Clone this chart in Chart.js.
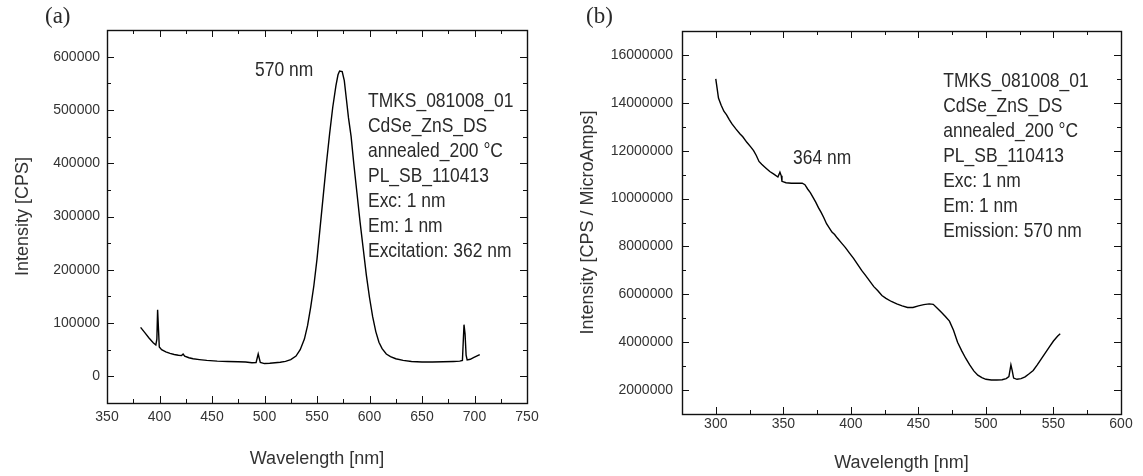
<!DOCTYPE html>
<html>
<head>
<meta charset="utf-8">
<title>PL / PLE spectra</title>
<script src="https://cdn.jsdelivr.net/npm/chart.js@4.4.1/dist/chart.umd.min.js"></script>
<style>
  html, body { margin: 0; padding: 0; background: #fff; }
  .panel { position: absolute; top: 0; }
  #panelA { left: 0; }
  #panelB { left: 570px; }
</style>
</head>
<body>
<div class="panel" id="panelA"><canvas id="chartA" width="570" height="476"></canvas></div>
<div class="panel" id="panelB"><canvas id="chartB" width="573" height="476"></canvas></div>
<script>
// ─── Data (a) : emission spectrum, excitation 362 nm ─────────
const wlA = [
  382, 386, 390, 394, 396.5, 397.5, 398.2, 399, 399.8, 402, 406, 410, 414, 418, 421, 422.5, 424,
  428, 432, 438, 445, 455, 465, 475, 482, 488, 492, 494, 496, 500, 505, 510, 515, 520, 525,
  530, 534, 538, 541, 544, 547, 550, 553, 556, 559, 562, 565, 568, 570, 571.5, 574, 576, 578,
  580, 582.5, 585, 588, 591, 594, 597, 600, 603, 606, 609, 612, 616, 620, 625, 632, 640, 650,
  660, 670, 680, 686, 688.5, 690, 691, 692, 693, 696, 699, 702, 705
];
const intA = [
  92000, 82000, 72000, 63000, 59000, 70000, 125000, 90000, 55000, 50000, 46000, 43000, 41000, 39500, 39000, 42000, 38000,
  35000, 33000, 31500, 30000, 28500, 28000, 27500, 27000, 25500, 26000, 42000, 26000, 24000, 24500, 25500, 26500, 28000, 31500,
  38000, 50000, 70000, 95000, 130000, 170000, 220000, 280000, 340000, 400000, 455000, 505000, 545000, 566000, 573000, 572000, 555000, 520000,
  485000, 450000, 400000, 345000, 290000, 240000, 190000, 148000, 112000, 84000, 64000, 52000, 42000, 37000, 33000, 30000, 28000, 27000,
  27000, 27500, 28000, 28500, 30000, 97000, 80000, 40000, 31000, 32000, 35000, 38000, 41000
];

// ─── Data (b) : excitation spectrum, emission 570 nm ─────────
const wlB = [
  300, 301, 302, 304, 306, 308, 310, 312, 315, 318, 320, 323, 326, 328, 330, 332, 334, 337, 340,
  343, 346, 347.5, 348.5, 349, 352, 356, 360, 364, 366, 368, 370, 372, 374, 376, 378, 380, 382,
  384, 386, 388, 390, 393, 396, 399, 402, 405, 408, 411, 414, 417, 420, 423, 426, 430, 434, 438,
  442, 446, 450, 454, 458, 461, 464, 467, 470, 473, 476, 479, 482, 485, 488, 491, 494, 497, 500,
  504, 508, 512, 515, 517, 518.5, 519.5, 520.5, 523, 526, 529, 532, 535, 538, 541, 544, 547, 550, 553, 555
];
const intB = [
  15000000, 14600000, 14200000, 13900000, 13650000, 13500000, 13300000, 13120000, 12900000, 12700000,
  12580000, 12350000, 12150000, 12000000, 11800000, 11550000, 11430000, 11280000, 11130000,
  11020000, 10900000, 11100000, 10950000, 10720000, 10660000, 10640000, 10640000, 10640000, 10580000,
  10400000, 10250000, 10050000, 9850000, 9620000, 9420000, 9200000, 8950000,
  8780000, 8600000, 8500000, 8350000, 8150000, 7950000, 7720000, 7500000, 7250000, 7000000, 6780000,
  6550000, 6320000, 6150000, 5950000, 5830000, 5700000, 5600000, 5520000,
  5450000, 5450000, 5520000, 5570000, 5600000, 5580000, 5420000, 5250000, 5070000, 4880000, 4500000,
  4000000, 3650000, 3330000, 3050000, 2800000, 2620000, 2520000, 2450000,
  2420000, 2420000, 2430000, 2480000, 2560000, 3050000, 2800000, 2500000, 2450000, 2480000, 2550000,
  2680000, 2820000, 3050000, 3300000, 3550000, 3800000, 4050000, 4250000, 4350000
];

// ─── Text ────────────────────────────────────────────────────
const infoA = ["TMKS_081008_01", "CdSe_ZnS_DS", "annealed_200 °C", "PL_SB_110413", "Exc: 1 nm", "Em: 1 nm", "Excitation: 362 nm"];
const infoB = ["TMKS_081008_01", "CdSe_ZnS_DS", "annealed_200 °C", "PL_SB_110413", "Exc: 1 nm", "Em: 1 nm", "Emission: 570 nm"];

const SANS = '"Liberation Sans", Arial, sans-serif';
const INK = "#2a2a2a";

// ─── Plugins ─────────────────────────────────────────────────
// box frame + inward ticks on all four sides (major = labelled tick)
const frameTicks = {
  id: "frameTicks",
  afterDraw(chart) {
    const { ctx, chartArea: a, scales: { x, y } } = chart;
    ctx.save();
    ctx.strokeStyle = "#111";
    ctx.lineWidth = 1;
    ctx.beginPath();
    for (const t of x.ticks) {
      const px = Math.round(x.getPixelForValue(t.value)) + 0.5;
      const len = t.label !== "" ? 7 : 4;
      ctx.moveTo(px, a.bottom); ctx.lineTo(px, a.bottom - len);
      ctx.moveTo(px, a.top); ctx.lineTo(px, a.top + len);
    }
    for (const t of y.ticks) {
      const py = Math.round(y.getPixelForValue(t.value)) + 0.5;
      const len = t.label !== "" ? 7 : 4;
      ctx.moveTo(a.left, py); ctx.lineTo(a.left + len, py);
      ctx.moveTo(a.right, py); ctx.lineTo(a.right - len, py);
    }
    ctx.stroke();
    ctx.lineWidth = 1.4;
    ctx.strokeRect(Math.round(a.left) + 0.5, Math.round(a.top) + 0.5,
      Math.round(a.right - a.left), Math.round(a.bottom - a.top));
    ctx.restore();
  }
};

// in-plot labels, anchored in data units
const notes = {
  id: "notes",
  afterDraw(chart, args, opts) {
    const { ctx, scales: { x, y } } = chart;
    ctx.save();
    ctx.fillStyle = INK;
    ctx.textBaseline = "middle";
    ctx.font = "21px " + SANS;
    for (const item of opts.items) {
      const px = x.getPixelForValue(item.x);
      const py = y.getPixelForValue(item.y);
      item.lines.forEach((line, i) => {
        ctx.save();
        ctx.translate(px, py + i * 25);
        ctx.scale(0.83, 1);
        ctx.fillText(line, 0, 0);
        ctx.restore();
      });
    }
    ctx.font = '23px "Liberation Serif", "Times New Roman", serif';
    ctx.fillText(opts.tag, opts.tagX, 17);
    ctx.restore();
  }
};

// ─── Chart factory ───────────────────────────────────────────
function makeChart(canvasId, cfg) {
  const data = cfg.wl.map((w, i) => ({ x: w, y: cfg.val[i] }));
  return new Chart(document.getElementById(canvasId), {
    type: "line",
    data: {
      datasets: [{
        data,
        borderColor: "#000",
        borderWidth: 1.4,
        pointRadius: 0,
        tension: 0,
        fill: false,
      }]
    },
    options: {
      responsive: false,
      devicePixelRatio: 1,
      animation: false,
      events: [],
      layout: { padding: cfg.padding },
      plugins: {
        legend: { display: false },
        tooltip: { enabled: false },
        notes: { items: cfg.notes, tag: cfg.tag, tagX: cfg.tagX },
      },
      scales: {
        x: {
          type: "linear",
          min: cfg.xMin, max: cfg.xMax,
          grid: { display: false, drawTicks: false },
          border: { display: false },
          ticks: {
            stepSize: cfg.xStep / 2,
            autoSkip: false,
            maxRotation: 0,
            padding: cfg.xPad,
            color: "#333",
            font: { family: SANS, size: 14 },
            callback: v => (v % cfg.xStep === 0 ? String(v) : ""),
          },
          title: {
            display: true,
            text: "Wavelength [nm]",
            color: "#333",
            font: { family: SANS, size: 18 },
            padding: { top: 0, bottom: cfg.xTitlePad },
          },
          afterFit: s => { s.height = cfg.xHeight; },
        },
        y: {
          type: "linear",
          min: cfg.yMin, max: cfg.yMax,
          grid: { display: false, drawTicks: false },
          border: { display: false },
          ticks: {
            stepSize: cfg.yStep / 2,
            autoSkip: false,
            padding: cfg.yPad,
            color: "#333",
            font: { family: SANS, size: 14 },
            callback: v => (v % cfg.yStep === 0 ? String(v) : ""),
          },
          title: {
            display: true,
            text: cfg.yTitle,
            color: "#333",
            font: { family: SANS, size: 18 },
            padding: { top: cfg.yTitlePad, bottom: 0 },
          },
          afterFit: s => { s.width = cfg.yWidth; },
        }
      }
    },
    plugins: [frameTicks, notes]
  });
}

makeChart("chartA", {
  wl: wlA, val: intA,
  xMin: 350, xMax: 750, xStep: 50,
  yMin: -50000, yMax: 650000, yStep: 100000,
  yTitle: "Intensity [CPS]",
  padding: { top: 30, right: 43, bottom: 0, left: 0 },
  yWidth: 107, xHeight: 73,
  xPad: 6, yPad: 7, xTitlePad: 6, yTitlePad: 12,
  tag: "(a)", tagX: 45,
  notes: [
    { x: 491, y: 575000, lines: ["570 nm"] },
    { x: 598.6, y: 517000, lines: infoA },
  ],
});

makeChart("chartB", {
  wl: wlB, val: intB,
  xMin: 275, xMax: 600, xStep: 50,
  yMin: 1000000, yMax: 17000000, yStep: 2000000,
  yTitle: "Intensity [CPS / MicroAmps]",
  padding: { top: 31, right: 22, bottom: 0, left: 0 },
  yWidth: 112, xHeight: 62,
  xPad: 2, yPad: 9, xTitlePad: 2, yTitlePad: 7,
  tag: "(b)", tagX: 16,
  notes: [
    { x: 357.2, y: 11690000, lines: ["364 nm"] },
    { x: 468.4, y: 14910000, lines: infoB },
  ],
});
</script>
</body>
</html>
